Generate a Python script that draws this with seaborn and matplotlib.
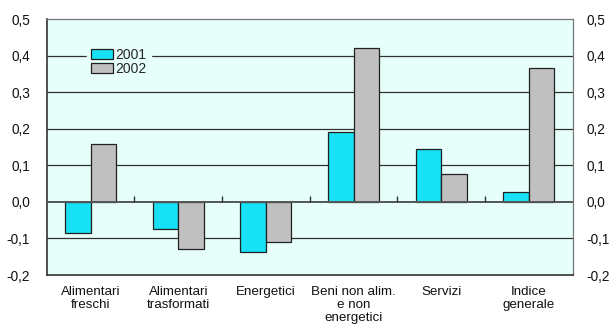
import matplotlib
matplotlib.use("Agg")
import matplotlib.pyplot as plt
import seaborn as sns
import pandas as pd
import numpy as np

categories = ["Alimentari\nfreschi", "Alimentari\ntrasformati", "Energetici",
              "Beni non alim.\ne non\nenergetici", "Servizi", "Indice\ngenerale"]
years = ["2001", "2002"]
values_2001 = [-0.086, -0.075, -0.137, 0.192, 0.144, 0.026]
values_2002 = [0.158, -0.129, -0.110, 0.421, 0.077, 0.366]
y_ticks = [-0.2, -0.1, 0.0, 0.1, 0.2, 0.3, 0.4, 0.5]

df = pd.DataFrame({
    "categoria": categories * 2,
    "anno": [years[0]] * len(categories) + [years[1]] * len(categories),
    "valore": values_2001 + values_2002,
})

sns.set_theme(style="white")
plt.rcParams["font.family"] = ["Liberation Sans", "DejaVu Sans"]

bg = "#E6FFFA"
palette = {"2001": "#17E1F5", "2002": "#C0C0C0"}

fig = plt.figure(figsize=(6.10, 3.34), dpi=100)
ax = fig.add_axes([0.0766, 0.1766, 0.8623, 0.7664])
ax.set_facecolor(bg)

sns.barplot(data=df, x="categoria", y="valore", hue="anno", palette=palette,
            width=0.58, gap=0, edgecolor="#202020", linewidth=0.9,
            saturation=1, ax=ax, zorder=3)

ax.set_ylim(-0.2, 0.5)
ax.set_xlim(-0.5, len(categories) - 0.5)
ax.set_yticks(y_ticks)
labels = [f"{t:.1f}".replace(".", ",") for t in y_ticks]
ax.set_yticklabels(labels)
ax.tick_params(axis="y", length=0, pad=12, labelsize=9.8, colors="#111111")
ax.tick_params(axis="x", length=0, pad=8, labelsize=9.6, colors="#111111")
for lbl in ax.get_xticklabels():
    lbl.set_linespacing(1.12)
ax.set_xlabel("")
ax.set_ylabel("")

# right-hand duplicate scale
ax2 = ax.twinx()
ax2.set_ylim(ax.get_ylim())
ax2.set_yticks(y_ticks)
ax2.set_yticklabels(labels)
ax2.tick_params(axis="y", length=0, pad=10, labelsize=9.8, colors="#111111")
for s in ax2.spines.values():
    s.set_visible(False)

# gridlines
for t in y_ticks[1:-1]:
    if t == 0:
        continue
    ax.axhline(t, color="#303030", linewidth=0.9, zorder=1)
ax.axhline(0, color="#555555", linewidth=1.4, zorder=4)

# small category-boundary ticks on the zero line
bounds = np.arange(len(categories) - 1) + 0.5
ax.vlines(bounds, 0, 0.015, color="#333333", linewidth=1.0, zorder=4)

ax.spines["left"].set_color("#333333")
ax.spines["left"].set_linewidth(1.2)
ax.spines["bottom"].set_color("#333333")
ax.spines["bottom"].set_linewidth(1.2)
ax.spines["top"].set_color("#777777")
ax.spines["top"].set_linewidth(0.9)
ax.spines["right"].set_color("#777777")
ax.spines["right"].set_linewidth(0.9)

leg = ax.legend(loc="upper left", bbox_to_anchor=(0.076, 0.905), frameon=True,
                fontsize=10, handlelength=1.6, handleheight=0.75,
                labelspacing=0.0, handletextpad=0.15, borderpad=0.3,
                borderaxespad=0)
leg.get_frame().set_facecolor(bg)
leg.get_frame().set_edgecolor(bg)
leg.get_frame().set_alpha(1)
leg.set_zorder(5)
for h in leg.legend_handles:
    h.set_edgecolor("#202020")
    h.set_linewidth(0.9)

fig.savefig("out.png", dpi=100, facecolor="white")
